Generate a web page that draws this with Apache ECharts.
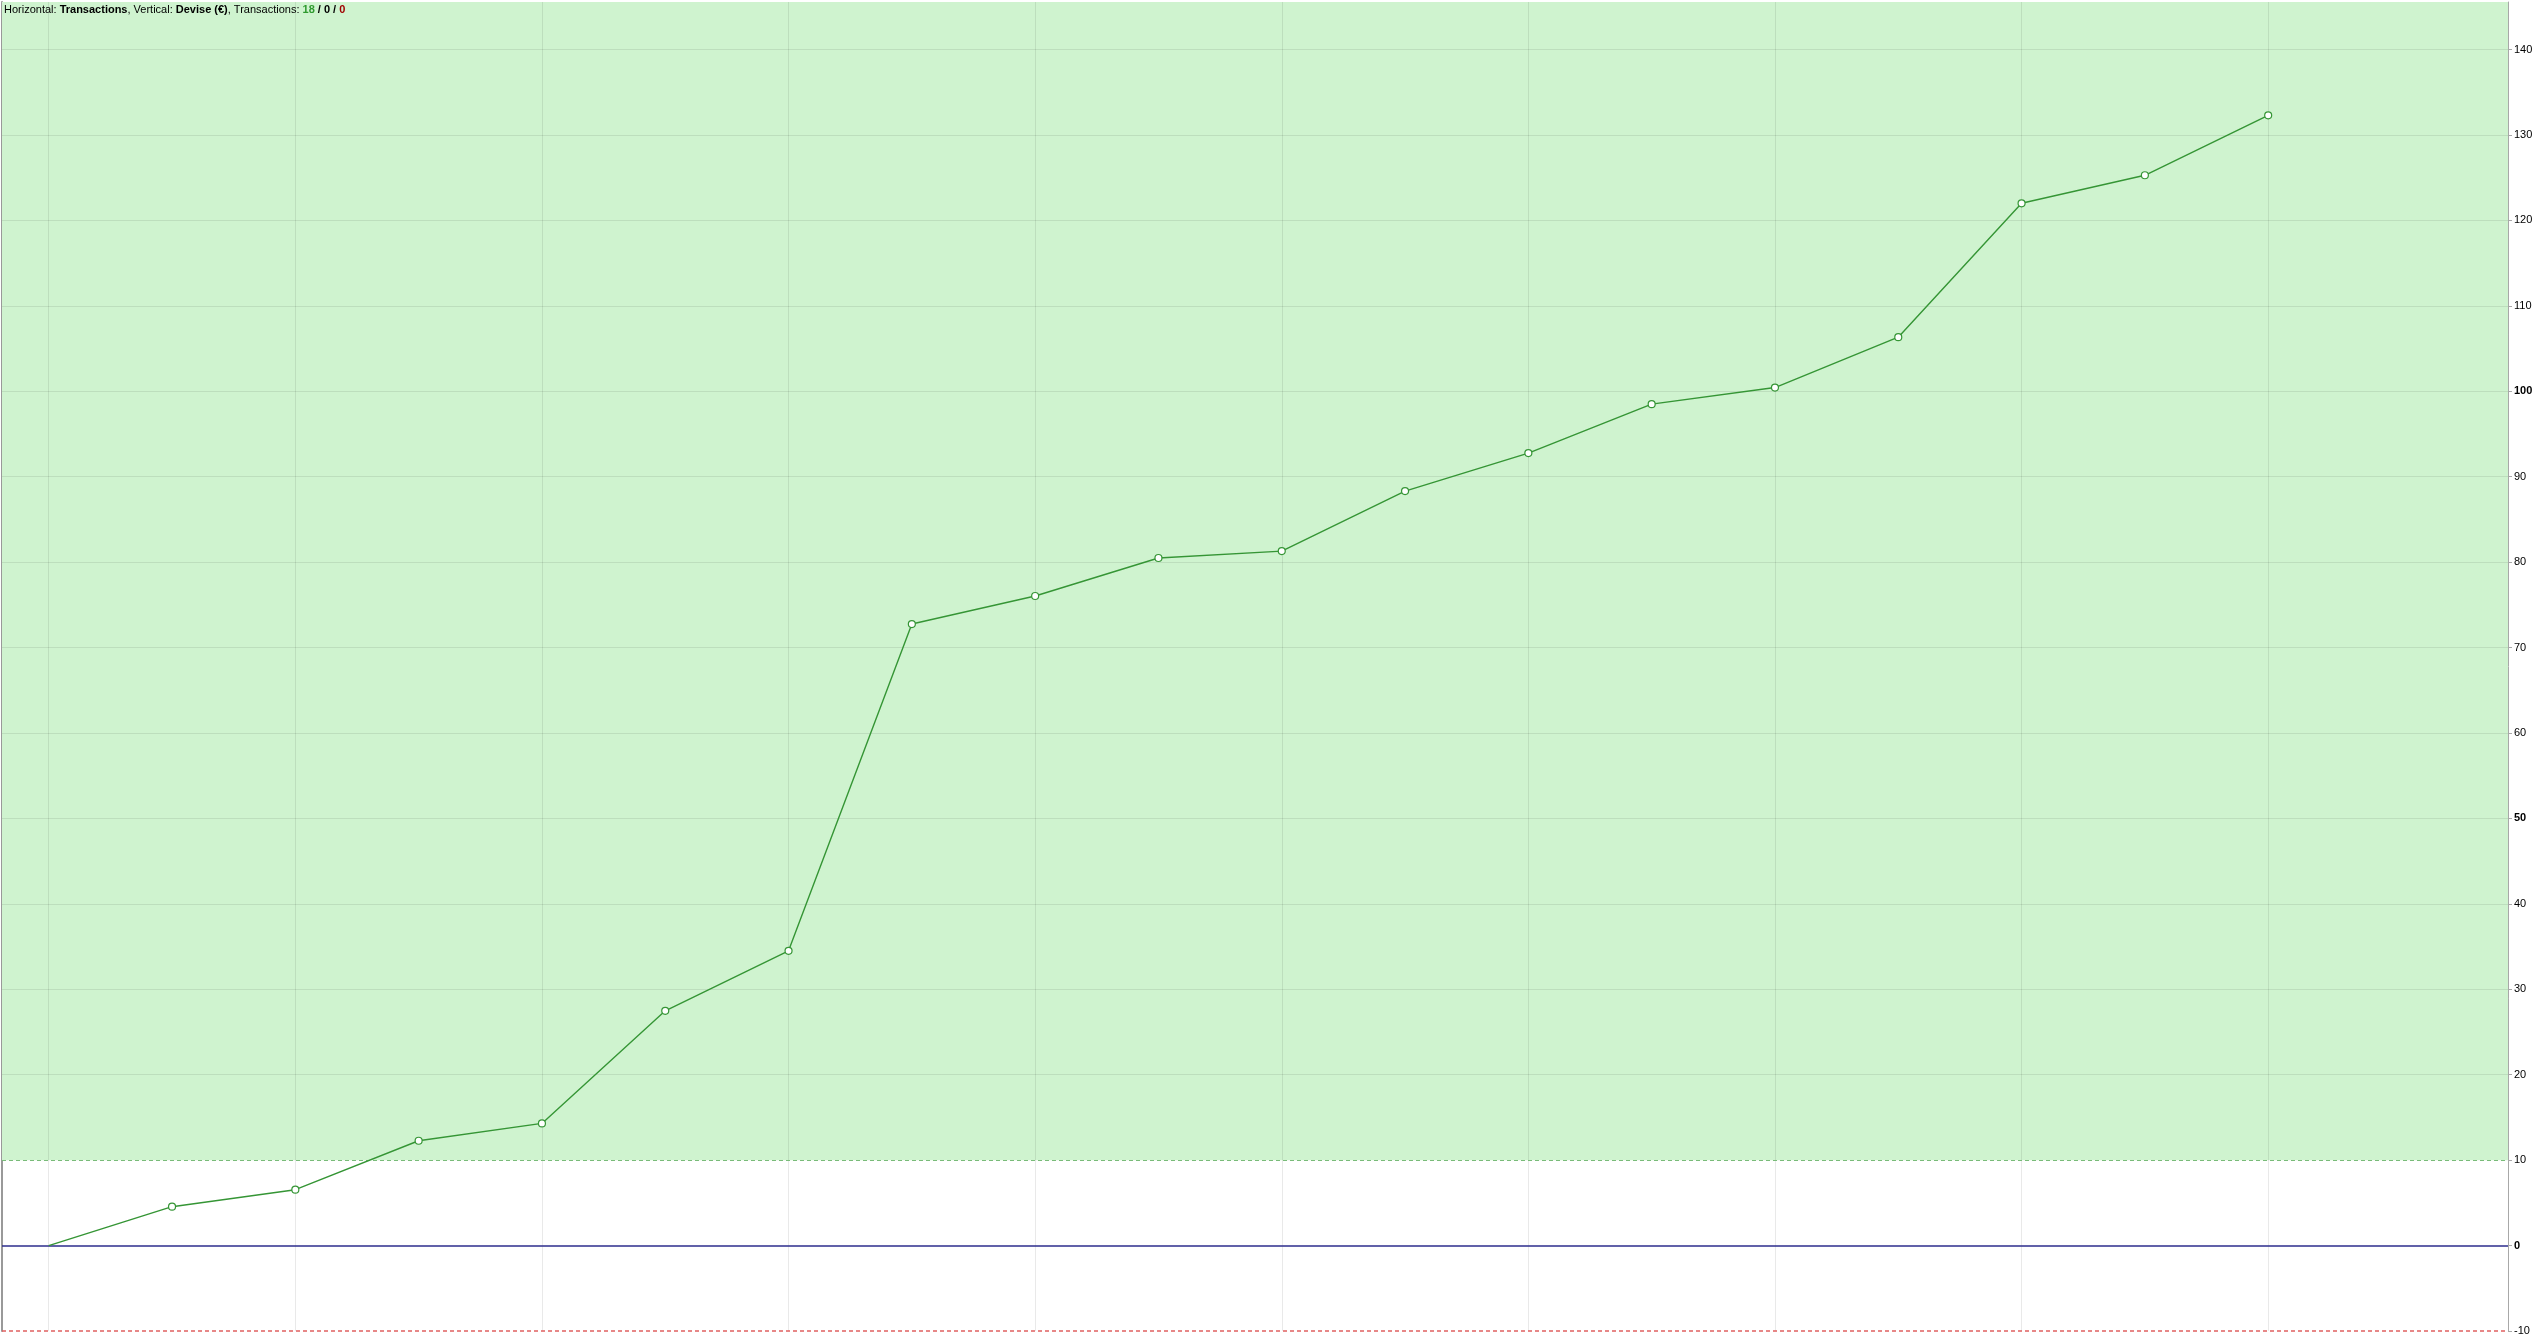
<!DOCTYPE html>
<html><head><meta charset="utf-8">
<script src="https://cdn.jsdelivr.net/npm/echarts@6/dist/echarts.min.js"></script>
<style>html,body{margin:0;padding:0;background:#fff}#c{width:2540px;height:1334px}</style>
</head><body><div id="c"></div>
<script>
// ---- data ----
const transactions = [0, 1, 2, 3, 4, 5, 6, 7, 8, 9, 10, 11, 12, 13, 14, 15, 16, 17, 18];
const balance = [0, 4.55, 6.54, 12.27, 14.30, 27.48, 34.50, 72.75, 76.03, 80.48, 81.29, 88.31, 92.76, 98.49, 100.43, 106.33, 122.0, 125.28, 132.3];
const yTicks = [-10, 0, 10, 20, 30, 40, 50, 60, 70, 80, 90, 100, 110, 120, 130, 140];
const boldTicks = [0, 50, 100];
const xGridValues = [0, 2, 4, 6, 8, 10, 12, 14, 16, 18];
const goodLevel = 10;
const zeroLevel = 0;
const badLevel = -10;
const countGood = 18, countNeutral = 0, countBad = 0;
const xRange = [-0.379, 19.945];
const yRange = [-10, 145.56];

// ---- chart ----
const chart = echarts.init(document.getElementById('c'), null, {renderer: 'canvas'});
const FONT = '"Liberation Sans", Arial, sans-serif';
const lineGreen = '#359535';

const points = transactions.map((x, i) => {
  const d = {value: [x, balance[i]]};
  if (i === 0) d.symbol = 'none';
  return d;
});

const option = {
  animation: false,
  backgroundColor: '#ffffff',
  title: {
    left: 4, top: 4, padding: 0,
    text: '{n|Horizontal: }{b|Transactions}{n|, Vertical: }{b|Devise (€)}{n|, Transactions: }{g|' + countGood + '}{b| / ' + countNeutral + ' / }{r|' + countBad + '}',
    textStyle: {
      fontFamily: FONT, fontSize: 11, color: '#000', fontWeight: 'normal',
      rich: {
        n: {fontFamily: FONT, fontSize: 11, color: '#000', fontWeight: 'normal'},
        b: {fontFamily: FONT, fontSize: 11, color: '#000', fontWeight: 'bold'},
        g: {fontFamily: FONT, fontSize: 11, color: '#2f9a2f', fontWeight: 'bold'},
        r: {fontFamily: FONT, fontSize: 11, color: '#a00000', fontWeight: 'bold'}
      }
    },
    z: 20
  },
  grid: {left: 2, right: 32, top: 2, bottom: 3, containLabel: false, outerBoundsMode: 'none'},
  xAxis: [
    {type: 'value', min: xRange[0], max: xRange[1], position: 'bottom',
     axisLine: {show: false}, axisTick: {show: false}, axisLabel: {show: false}, splitLine: {show: false}},
    {type: 'value', min: xRange[0], max: xRange[1], position: 'top',
     axisLine: {show: true, onZero: false, lineStyle: {color: '#aaaaaa', width: 1}}, axisTick: {show: false}, axisLabel: {show: false}, splitLine: {show: false}}
  ],
  yAxis: [
    {type: 'value', position: 'right', min: yRange[0], max: yRange[1], interval: 10,
     axisLine: {show: true, onZero: false, lineStyle: {color: '#a8a8a8', width: 1}},
     axisTick: {show: true, length: 4, customValues: yTicks, lineStyle: {color: '#a8a8a8'}},
     axisLabel: {
       customValues: yTicks, margin: 6, fontFamily: FONT, fontSize: 11, color: '#000',
       formatter: v => boldTicks.indexOf(v) >= 0 ? '{b|' + v + '}' : '{n|' + v + '}',
       rich: {
         n: {fontFamily: FONT, fontSize: 11, color: '#000'},
         b: {fontFamily: FONT, fontSize: 11, color: '#000', fontWeight: 'bold'}
       }
     },
     splitLine: {show: false}},
    {type: 'value', position: 'left', min: yRange[0], max: yRange[1],
     axisLine: {show: true, onZero: false, lineStyle: {color: '#999999', width: 2}},
     axisTick: {show: false}, axisLabel: {show: false}, splitLine: {show: false}}
  ],
  series: [
    {
      name: 'zone', type: 'line', data: [], z: 1, silent: true,
      markArea: {
        silent: true,
        itemStyle: {color: '#cff3cf'},
        data: [[{yAxis: goodLevel}, {yAxis: yRange[1]}]]
      }
    },
    {
      name: 'grid', type: 'line', data: [], z: 2, silent: true,
      markLine: {
        silent: true, symbol: ['none', 'none'], label: {show: false},
        lineStyle: {type: 'solid', color: 'rgba(0,0,0,0.085)', width: 1},
        data: xGridValues.map(v => ({xAxis: v})).concat(yTicks.filter(v => v !== zeroLevel && v !== goodLevel && v !== badLevel).map(v => ({yAxis: v})))
      }
    },
    {
      name: 'levels', type: 'line', data: [], z: 3, silent: true,
      markLine: {
        silent: true, symbol: ['none', 'none'], label: {show: false},
        data: [
          {yAxis: goodLevel, lineStyle: {type: [4, 3], color: '#79bb79', width: 1}},
          {yAxis: zeroLevel, lineStyle: {type: 'solid', color: '#2c2c8c', width: 1.5}},
          {yAxis: badLevel, lineStyle: {type: [4, 3], color: '#e06060', width: 1.5}}
        ]
      }
    },
    {
      name: 'Devise', type: 'line', z: 10,
      data: points,
      symbol: 'circle', symbolSize: 7,
      lineStyle: {color: lineGreen, width: 1.4},
      itemStyle: {color: '#ffffff', borderColor: lineGreen, borderWidth: 1.2},
      emphasis: {disabled: true}
    }
  ]
};
chart.setOption(option);
</script>
</body></html>
